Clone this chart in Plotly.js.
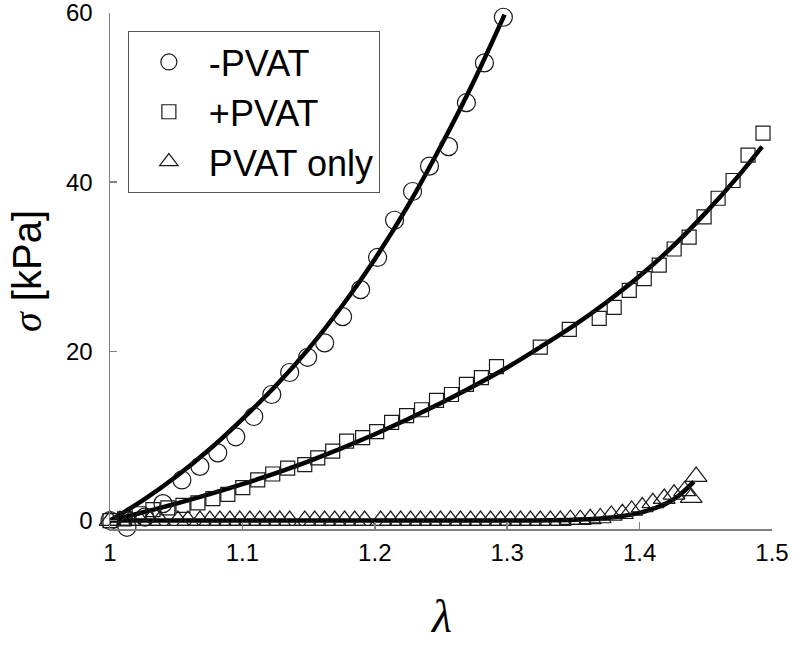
<!DOCTYPE html>
<html>
<head>
<meta charset="utf-8">
<script src="https://cdn.plot.ly/plotly-3.0.1.min.js"></script>
<style>html,body{margin:0;padding:0;background:#fff;}</style>
</head>
<body>
<div id="chart" style="width:794px;height:645px;"></div>
<script>
// -PVAT (circles)
const minusX = [1.000, 1.0128, 1.0264, 1.040, 1.0543, 1.0679, 1.0814, 1.095, 1.1086, 1.1222, 1.1357, 1.1493, 1.1621, 1.1757, 1.1893, 1.2021, 1.2149, 1.2285, 1.2413, 1.2557, 1.2692, 1.2828, 1.2971];
const minusY = [0.0, -0.8, 0.4, 2.0, 4.8, 6.4, 8.0, 9.9, 12.3, 14.9, 17.5, 19.3, 21.0, 24.1, 27.3, 31.1, 35.5, 38.9, 41.9, 44.2, 49.4, 54.1, 59.5];
// +PVAT (squares)
const plusX = [1.000, 1.011, 1.022, 1.0324, 1.0437, 1.0551, 1.0664, 1.0777, 1.0890, 1.1003, 1.1116, 1.1229, 1.1342, 1.1471, 1.1569, 1.1682, 1.1787, 1.1908, 1.2014, 1.2127, 1.2240, 1.2353, 1.2466, 1.2579, 1.2692, 1.2805, 1.2919, 1.3250, 1.3469, 1.3695, 1.3808, 1.3922, 1.4035, 1.4148, 1.4261, 1.4374, 1.4487, 1.4593, 1.4706, 1.4819, 1.4932];
const plusY = [0.0, 0.2, 0.8, 1.3, 1.5, 1.8, 2.1, 2.6, 3.1, 3.9, 4.8, 5.5, 6.2, 6.6, 7.4, 8.2, 9.4, 9.8, 10.5, 11.6, 12.4, 13.1, 14.2, 14.9, 16.1, 16.9, 18.2, 20.5, 22.6, 23.9, 25.2, 27.2, 28.6, 30.2, 32.1, 33.5, 35.9, 38.1, 40.2, 43.2, 45.8];
// PVAT only (triangles)
const onlyX = [1.000, 1.0075, 1.015, 1.0226, 1.0302, 1.0377, 1.0513, 1.0588, 1.0679, 1.0754, 1.0830, 1.0905, 1.0980, 1.1056, 1.1131, 1.1207, 1.1282, 1.1357, 1.1471, 1.1546, 1.1621, 1.1697, 1.1772, 1.1848, 1.1923, 1.2044, 1.2119, 1.2195, 1.2270, 1.2345, 1.2421, 1.2496, 1.2572, 1.2647, 1.2723, 1.2798, 1.2874, 1.2949, 1.3024, 1.3100, 1.3175, 1.3250, 1.3326, 1.3401, 1.3477, 1.3552, 1.3627, 1.3703, 1.3786, 1.387, 1.394, 1.402, 1.410, 1.4186, 1.426, 1.434, 1.439, 1.4427];
const onlyY = [0.0, 0.0, 0.0, 0.0, 0.0, 0.0, 0.0, 0.0, 0.0, 0.0, 0.0, 0.0, 0.0, 0.0, 0.0, 0.0, 0.0, 0.0, 0.0, 0.0, 0.0, 0.0, 0.0, 0.0, 0.0, 0.0, 0.0, 0.0, 0.0, 0.0, 0.0, 0.0, 0.0, 0.0, 0.0, 0.0, 0.0, 0.0, 0.0, 0.0, 0.0, 0.0, 0.0, 0.0, 0.1, 0.1, 0.2, 0.3, 0.6, 0.8, 1.2, 1.6, 2.1, 2.6, 3.1, 3.5, 2.7, 5.2];
// fitted curves
const fitMinusX = [1.0, 1.025, 1.05, 1.075, 1.1, 1.125, 1.15, 1.175, 1.2, 1.225, 1.25, 1.275, 1.298];
const fitMinusY = [0.0, 2.4, 5.2, 8.4, 12.0, 15.9, 20.3, 25.3, 30.9, 37.2, 44.3, 52.0, 59.8];
const fitPlusX = [1.0, 1.05, 1.1, 1.15, 1.2, 1.25, 1.3, 1.325, 1.35, 1.375, 1.4, 1.425, 1.45, 1.475, 1.4925];
const fitPlusY = [0.0, 2.0, 4.3, 7.0, 10.2, 13.9, 18.1, 20.5, 23.0, 25.8, 28.9, 32.4, 36.4, 40.8, 44.2];
const fitOnlyX = [1.0, 1.3, 1.35, 1.375, 1.4, 1.41, 1.42, 1.43, 1.441];
const fitOnlyY = [0.0, 0.0, 0.1, 0.3, 0.9, 1.4, 2.0, 3.0, 4.6];

const xTicks = [1, 1.1, 1.2, 1.3, 1.4, 1.5];
const xTickText = ['1', '1.1', '1.2', '1.3', '1.4', '1.5'];
const yTicks = [0, 20, 40, 60];
const yTickText = ['0', '20', '40', '60'];
const seriesNames = ['-PVAT', '+PVAT', 'PVAT only'];
const xTitle = 'λ';
const yTitleSymbol = 'σ';
const yTitleUnit = '[kPa]';

const sans = 'Liberation Sans, Arial, sans-serif';
const serif = 'Liberation Serif, Times New Roman, serif';
const mk = (sym, size) => ({symbol: sym, size: size, color: '#1a1a1a', line: {color: '#1a1a1a', width: 1.2}});
const fitLine = {color: '#000', width: 4.5, shape: 'spline'};
const traces = [
  {x: fitMinusX, y: fitMinusY, mode: 'lines', line: fitLine, showlegend: false, cliponaxis: false},
  {x: fitPlusX, y: fitPlusY, mode: 'lines', line: fitLine, showlegend: false, cliponaxis: false},
  {x: fitOnlyX, y: fitOnlyY, mode: 'lines', line: fitLine, showlegend: false, cliponaxis: false},
  {x: minusX, y: minusY, mode: 'markers', name: seriesNames[0], marker: mk('circle-open', 18), cliponaxis: false},
  {x: plusX, y: plusY, mode: 'markers', name: seriesNames[1], marker: mk('square-open', 14), cliponaxis: false},
  {x: onlyX, y: onlyY, mode: 'markers', name: seriesNames[2], marker: mk('triangle-up-open', 19), cliponaxis: false}
];
const layout = {
  width: 794, height: 645,
  margin: {l: 110, r: 22, t: 13, b: 116},
  paper_bgcolor: '#fff', plot_bgcolor: '#fff',
  font: {family: sans, color: '#000'},
  showlegend: true,
  legend: {x: 0.027, y: 0.965, xanchor: 'left', yanchor: 'top', bordercolor: '#555', borderwidth: 1,
           bgcolor: '#fff', font: {size: 36, family: sans, color: '#000'}, itemwidth: 70, tracegroupgap: 0},
  xaxis: {range: [1, 1.5], tickvals: xTicks, ticktext: xTickText, ticks: 'inside', ticklen: 7, tickwidth: 1.5,
          tickcolor: '#808080', showline: true, linecolor: '#808080', linewidth: 1.5, showgrid: false, zeroline: false,
          tickfont: {size: 24, family: sans, color: '#000'}, ticklabelstandoff: 2, ticklabeloverflow: 'allow'},
  yaxis: {range: [-1, 60], tickvals: yTicks, ticktext: yTickText, ticks: 'inside', ticklen: 7, tickwidth: 1.5,
          tickcolor: '#808080', showline: true, linecolor: '#808080', linewidth: 1.5, showgrid: false, zeroline: false,
          tickfont: {size: 24, family: sans, color: '#000'}, ticklabelstandoff: 11, ticklabeloverflow: 'allow',
          title: {text: '<span style="font-family:Liberation Serif"><i>' + yTitleSymbol + '</i></span> ' + yTitleUnit,
                  font: {size: 40, family: sans, color: '#000'}, standoff: 12}},
  annotations: [
    {text: '<i>' + xTitle + '</i>', xref: 'paper', yref: 'paper', x: 0.5, y: 0, xanchor: 'center', yanchor: 'bottom',
     yshift: -115, showarrow: false, font: {size: 46, family: serif, color: '#000'}}
  ]
};
Plotly.newPlot('chart', traces, layout, {staticPlot: true});
</script>
</body>
</html>
